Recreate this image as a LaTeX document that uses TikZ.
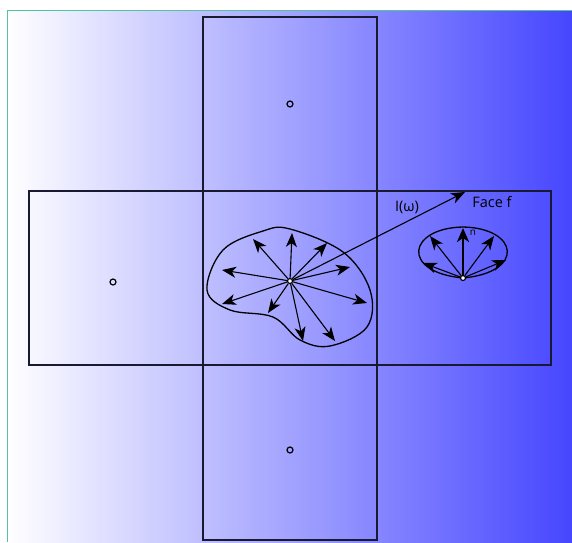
\documentclass[tikz,border=0pt]{standalone}
\usepackage{fontspec}
\setmainfont{Open Sans}
\usetikzlibrary{arrows.meta}
\definecolor{bgblue}{RGB}{70,70,255}
\definecolor{edgegreen}{RGB}{80,195,160}
\definecolor{linedark}{RGB}{25,25,50}
\tikzset{
  panel/.style={draw=linedark,line width=1.4pt},
  dot/.style={circle,draw=black,line width=1.2pt,inner sep=0pt,minimum size=6pt},
  ray/.style={line width=1.1pt,-{Stealth[length=14pt,width=11pt,inset=4pt]}},
  bigray/.style={line width=2.4pt,-{Stealth[length=14pt,width=12pt,inset=4pt]}},
  label/.style={font=\fontsize{14.5}{16}\selectfont,inner sep=1pt},
}
\begin{document}
\begin{tikzpicture}[x=1pt,y=-1pt]
\useasboundingbox (0,0) rectangle (572,542);
% background
\fill[left color=white,right color=bgblue] (7,10) rectangle (572,542);
\draw[edgegreen,line width=1pt] (7,542) -- (7,10) -- (572,10);
% cross panels
\draw[panel] (203,17) rectangle (377,540);
\draw[panel] (29,191) rectangle (551,365);
% face centres
\node[dot] (cl) at (113,282) {};
\node[dot] (ct) at (290,104) {};
\node[dot] (cb) at (290,450) {};
% blob
\draw[line width=1.3pt] plot[smooth cycle,tension=0.6] coordinates {
 (290,229) (343,252) (370,290) (367,327) (330,346) (300,340) (273,317)
 (230,310) (207,290) (223,250) (263,231)};
\node[dot,fill=white,minimum size=5pt] (c) at (290,281) {};
\coordinate (ta) at (292,233);
\coordinate (tb) at (253,239);
\coordinate (td) at (327,243);
\coordinate (te) at (222,270);
\coordinate (tg) at (350,267);
\coordinate (th) at (222,304);
\coordinate (ti) at (367,303);
\coordinate (tj) at (268,313);
\coordinate (tk) at (303,341);
\coordinate (tl) at (335,341);
\draw[ray] (c) -- (ta);
\draw[ray] (c) -- (tb);
\draw[ray] (c) -- (td);
\draw[ray] (c) -- (te);
\draw[ray] (c) -- (tg);
\draw[ray] (c) -- (th);
\draw[ray] (c) -- (ti);
\draw[ray] (c) -- (tj);
\draw[ray] (c) -- (tk);
\draw[ray] (c) -- (tl);
% long ray to face f
\coordinate (tf) at (465,192);
\draw[ray] (c) -- (tf);
\node[label] (lw) at (407,207) {I(ω)};
\node[label] (lf) at (492,202) {Face f};
% right lobe
\draw[line width=1.3pt] (463,278) .. controls (400,272) and (408,228) .. (463,227)
  .. controls (518,228) and (526,272) .. (463,278);
\node[dot,fill=white,minimum size=5pt] (p) at (463,278) {};
\coordinate (r1) at (423,263);
\coordinate (r2) at (430,236);
\coordinate (r3) at (463,228);
\coordinate (r4) at (494,236);
\coordinate (r5) at (506,260);
\draw[ray] (p) -- (r1);
\draw[ray] (p) -- (r2);
\draw[bigray] (p) -- (r3);
\draw[ray] (p) -- (r4);
\draw[ray] (p) -- (r5);
\node[font=\fontsize{10}{11}\selectfont,inner sep=0pt] (ln) at (473,233) {n};
\end{tikzpicture}
\end{document}
